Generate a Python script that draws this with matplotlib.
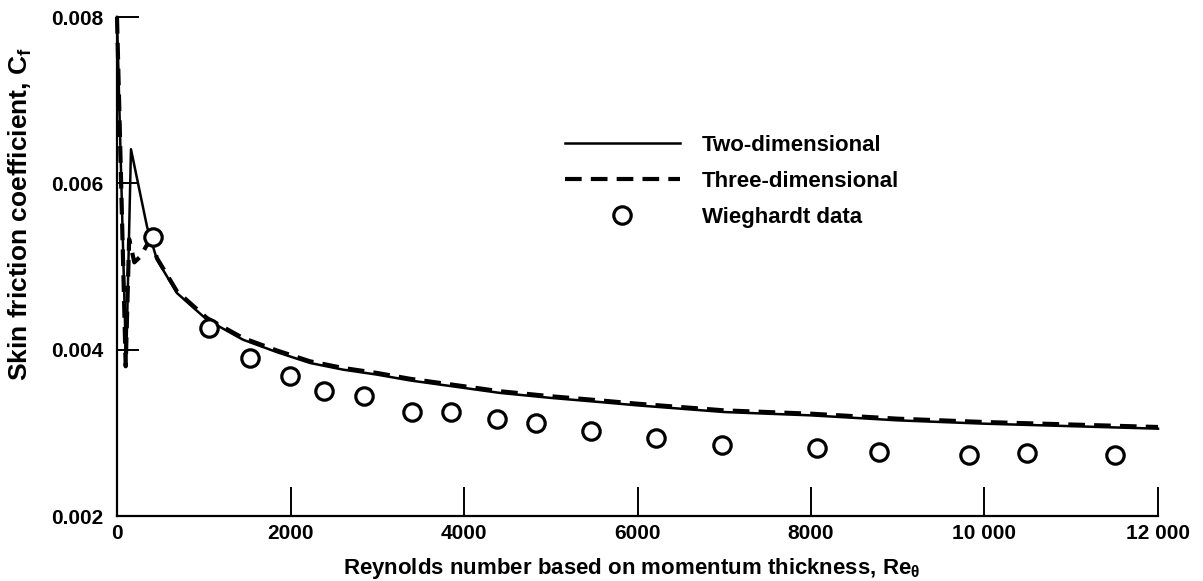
import matplotlib
matplotlib.use("Agg")
import matplotlib.pyplot as plt
from matplotlib.lines import Line2D

# ---- data ----
x_two_dim = [0, 105, 161, 346, 461, 692, 1037, 1452, 1844, 2225, 2605, 2997, 3377,
             4000, 4415, 5000, 5568, 6000, 7000, 8000, 9000, 10000, 11000, 12000]
cf_two_dim = [0.00800, 0.00381, 0.00641, 0.00548, 0.00508, 0.00468, 0.00436, 0.00412,
              0.00397, 0.00384, 0.00376, 0.00370, 0.00363, 0.00354, 0.00348, 0.00342,
              0.00337, 0.00333, 0.00325, 0.00321, 0.00315, 0.00311, 0.00308, 0.00305]

x_three_dim = [0, 100, 140, 200, 270, 340, 400, 461, 692, 1037, 1452, 1844, 2225, 2605,
               2997, 3377, 4000, 4415, 5000, 5568, 6000, 7000, 8000, 9000, 10000, 11000, 12000]
cf_three_dim = [0.00800, 0.00380, 0.00533, 0.00505, 0.00512, 0.00525, 0.00530, 0.00510,
                0.00470, 0.00438, 0.00414, 0.00399, 0.00386, 0.00378, 0.00372, 0.00365,
                0.00356, 0.00350, 0.00344, 0.00339, 0.00335, 0.00327, 0.00323, 0.00317,
                0.00313, 0.00310, 0.00307]

x_wieghardt = [415, 1061, 1533, 1994, 2386, 2847, 3400, 3850, 4380, 4830, 5464, 6213,
               6974, 8069, 8784, 9821, 10490, 11504]
cf_wieghardt = [0.005355, 0.004261, 0.003900, 0.003684, 0.003503, 0.003443, 0.003251,
                0.003251, 0.003167, 0.003118, 0.003022, 0.002938, 0.002854, 0.002818,
                0.002770, 0.002734, 0.002758, 0.002734]

x_ticks = [0, 2000, 4000, 6000, 8000, 10000, 12000]
x_tick_labels = ["0", "2000", "4000", "6000", "8000", "10 000", "12 000"]
y_ticks = [0.002, 0.004, 0.006, 0.008]
y_tick_labels = ["0.002", "0.004", "0.006", "0.008"]

labels = ["Two-dimensional", "Three-dimensional", "Wieghardt data"]

# ---- style ----
plt.rcParams["font.family"] = ["Liberation Sans", "DejaVu Sans"]
plt.rcParams["font.weight"] = "bold"
plt.rcParams["mathtext.fontset"] = "custom"
plt.rcParams["mathtext.rm"] = "Liberation Sans:bold"
plt.rcParams["mathtext.it"] = "Liberation Sans:bold"
plt.rcParams["mathtext.bf"] = "Liberation Sans:bold"

FS_TICK = 15
FS_XLAB = 16
FS_YLAB = 19
FS_LEG = 16

fig = plt.figure(figsize=(12.03, 5.81), dpi=100)
ax = fig.add_axes([117 / 1203, 1 - 516 / 581, (1158 - 117) / 1203, (516 - 17) / 581])

ax.plot(x_two_dim, cf_two_dim, color="black", lw=1.8, solid_joinstyle="round",
        clip_on=False, zorder=3)
ax.plot(x_three_dim, cf_three_dim, color="black", lw=3.0, dashes=(4.0, 2.2),
        clip_on=False, zorder=4)
ax.plot(x_wieghardt, cf_wieghardt, linestyle="none", marker="o", ms=12.5,
        mfc="white", mec="black", mew=2.3, zorder=5)

ax.set_xlim(0, 12000)
ax.set_ylim(0.002, 0.008)
ax.set_xticks(x_ticks)
ax.set_xticklabels(x_tick_labels, fontsize=FS_TICK, fontweight="bold")
ax.set_yticks(y_ticks)
ax.set_yticklabels(y_tick_labels, fontsize=FS_TICK, fontweight="bold")

for s in ["top", "right"]:
    ax.spines[s].set_visible(False)
for s in ["left", "bottom"]:
    ax.spines[s].set_linewidth(1.6)

ax.tick_params(axis="x", direction="in", length=21, width=1.4, pad=6)
ax.tick_params(axis="y", direction="in", length=16, width=1.4, pad=10)

ax.set_xlabel(r"Reynolds number based on momentum thickness, Re$_{\theta}$",
              fontsize=FS_XLAB, fontweight="bold")
ax.xaxis.set_label_coords(0.4945, -0.081)
ax.set_ylabel(r"Skin friction coefficient, C$_f$", fontsize=FS_YLAB, fontweight="bold")
ax.yaxis.set_label_coords(-0.0795, 0.605)

handles = [
    Line2D([], [], color="black", lw=1.8),
    Line2D([], [], color="black", lw=3.0, dashes=(4.0, 2.2)),
    Line2D([], [], linestyle="none", marker="o", ms=12.5, mfc="white", mec="black", mew=2.3),
]
leg = fig.legend(handles, labels, loc="upper left",
                 bbox_to_anchor=(565 / 1203, 1 - 135 / 581),
                 frameon=False, fontsize=FS_LEG, handlelength=5.17, handletextpad=1.0,
                 borderpad=0, borderaxespad=0, labelspacing=0.68)
for t in leg.get_texts():
    t.set_fontweight("bold")

fig.savefig("out.png", dpi=100)
